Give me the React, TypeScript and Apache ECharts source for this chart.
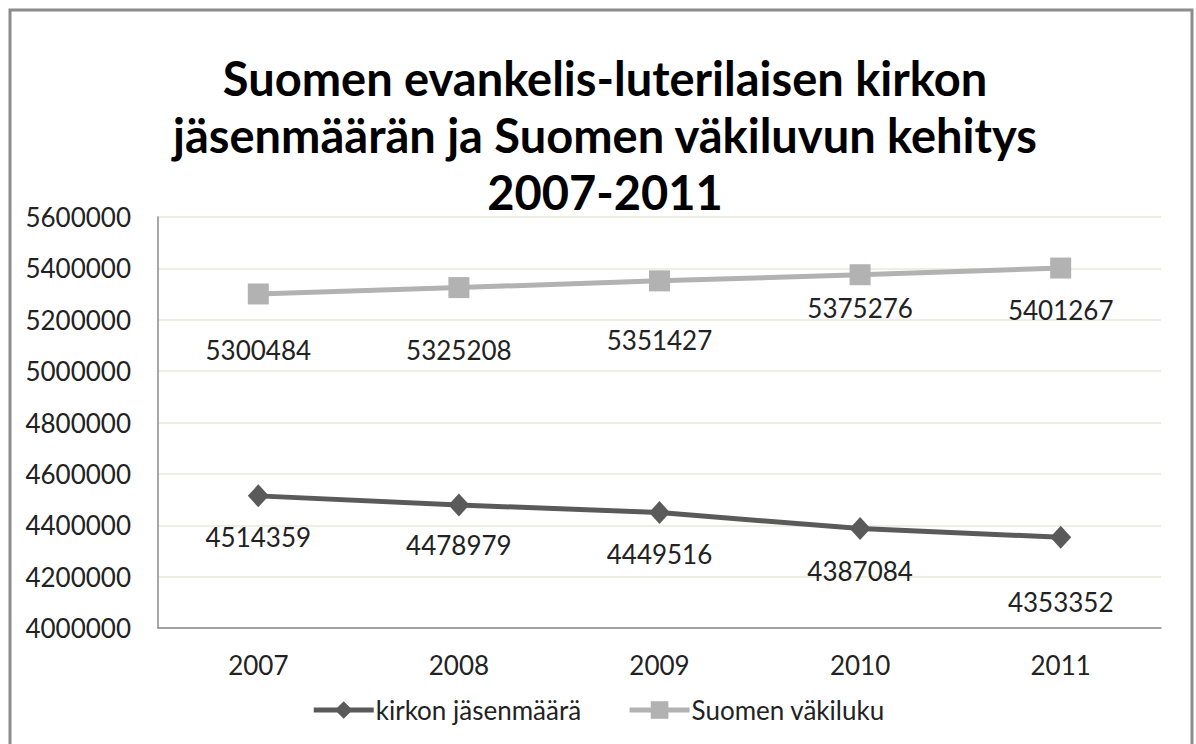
import React, { useEffect, useRef } from "react";
import * as echarts from "echarts";

const titleText = "Suomen evankelis-luterilaisen kirkon\njäsenmäärän ja Suomen väkiluvun kehitys\n2007-2011";
const years = ["2007", "2008", "2009", "2010", "2011"];
const churchName = "kirkon jäsenmäärä";
const popName = "Suomen väkiluku";
const churchMembers = [4514359, 4478979, 4449516, 4387084, 4353352];
const population = [5300484, 5325208, 5351427, 5375276, 5401267];
// label vertical offsets (px below the point), as placed in the original
const churchLabelDy = [41, 40, 41, 42, 65];
const popLabelDy = [56, 62, 59, 33, 42];

const FONT = "Lato";

export default function App() {
  const ref = useRef<HTMLDivElement>(null);
  useEffect(() => {
    if (!ref.current) return;
    const chart = echarts.init(ref.current, undefined, { renderer: "svg" });
    const mk = (vals: number[], dys: number[]) =>
      vals.map((v, i) => ({ value: v, label: { offset: [0, dys[i]] } }));
    chart.setOption({
      animation: false,
      backgroundColor: "#ffffff",
      title: {
        text: titleText,
        left: 600,
        textAlign: "center",
        top: 44,
        textStyle: {
          fontFamily: FONT,
          fontWeight: "bold",
          fontSize: 47,
          lineHeight: 57,
          color: "#000",
        },
      },
      graphic: [
        {
          type: "rect",
          shape: { x: 10, y: 10, width: 1182, height: 780 },
          style: { fill: "none", stroke: "#8c8c8c", lineWidth: 3 },
          silent: true,
        },
      ],
      legend: {
        bottom: 16,
        left: "center",
        itemWidth: 60,
        itemHeight: 22,
        itemGap: 46,
        lineStyle: { width: 5 },
        textStyle: { fontFamily: FONT, fontSize: 26, color: "#222", padding: [0, 0, 0, -3] },
        data: [churchName, popName],
      },
      grid: { left: 158, right: 35, top: 217, bottom: 116 },
      xAxis: {
        type: "category",
        data: years,
        boundaryGap: true,
        axisLine: { lineStyle: { color: "#8a8a8a", width: 1.5 } },
        axisTick: { show: false },
        axisLabel: { fontFamily: FONT, fontSize: 26, color: "#222", margin: 24 },
      },
      yAxis: {
        type: "value",
        min: 4000000,
        max: 5600000,
        interval: 200000,
        axisLine: { show: true, lineStyle: { color: "#8a8a8a", width: 1.5 } },
        axisTick: { show: false },
        splitLine: { lineStyle: { color: "#e8e8de", width: 1.5 } },
        axisLabel: {
          fontFamily: FONT,
          fontSize: 26,
          color: "#222",
          margin: 27,
          formatter: (v: number) => String(v),
        },
      },
      series: [
        {
          name: churchName,
          type: "line",
          data: mk(churchMembers, churchLabelDy),
          symbol: "diamond",
          symbolSize: [21, 23],
          itemStyle: { color: "#5a5a5a" },
          lineStyle: { color: "#5a5a5a", width: 5 },
          label: {
            show: true,
            position: "inside",
            fontFamily: FONT,
            fontSize: 26,
            color: "#222",
          },
        },
        {
          name: popName,
          type: "line",
          data: mk(population, popLabelDy),
          symbol: "rect",
          symbolSize: [21, 21],
          itemStyle: { color: "#b2b2b2" },
          lineStyle: { color: "#b2b2b2", width: 5 },
          label: {
            show: true,
            position: "inside",
            fontFamily: FONT,
            fontSize: 26,
            color: "#222",
          },
        },
      ],
    });
    return () => chart.dispose();
  }, []);
  return (
    <div
      ref={ref}
      style={{ position: "absolute", left: 0, top: 0, width: 1196, height: 744 }}
    />
  );
}
